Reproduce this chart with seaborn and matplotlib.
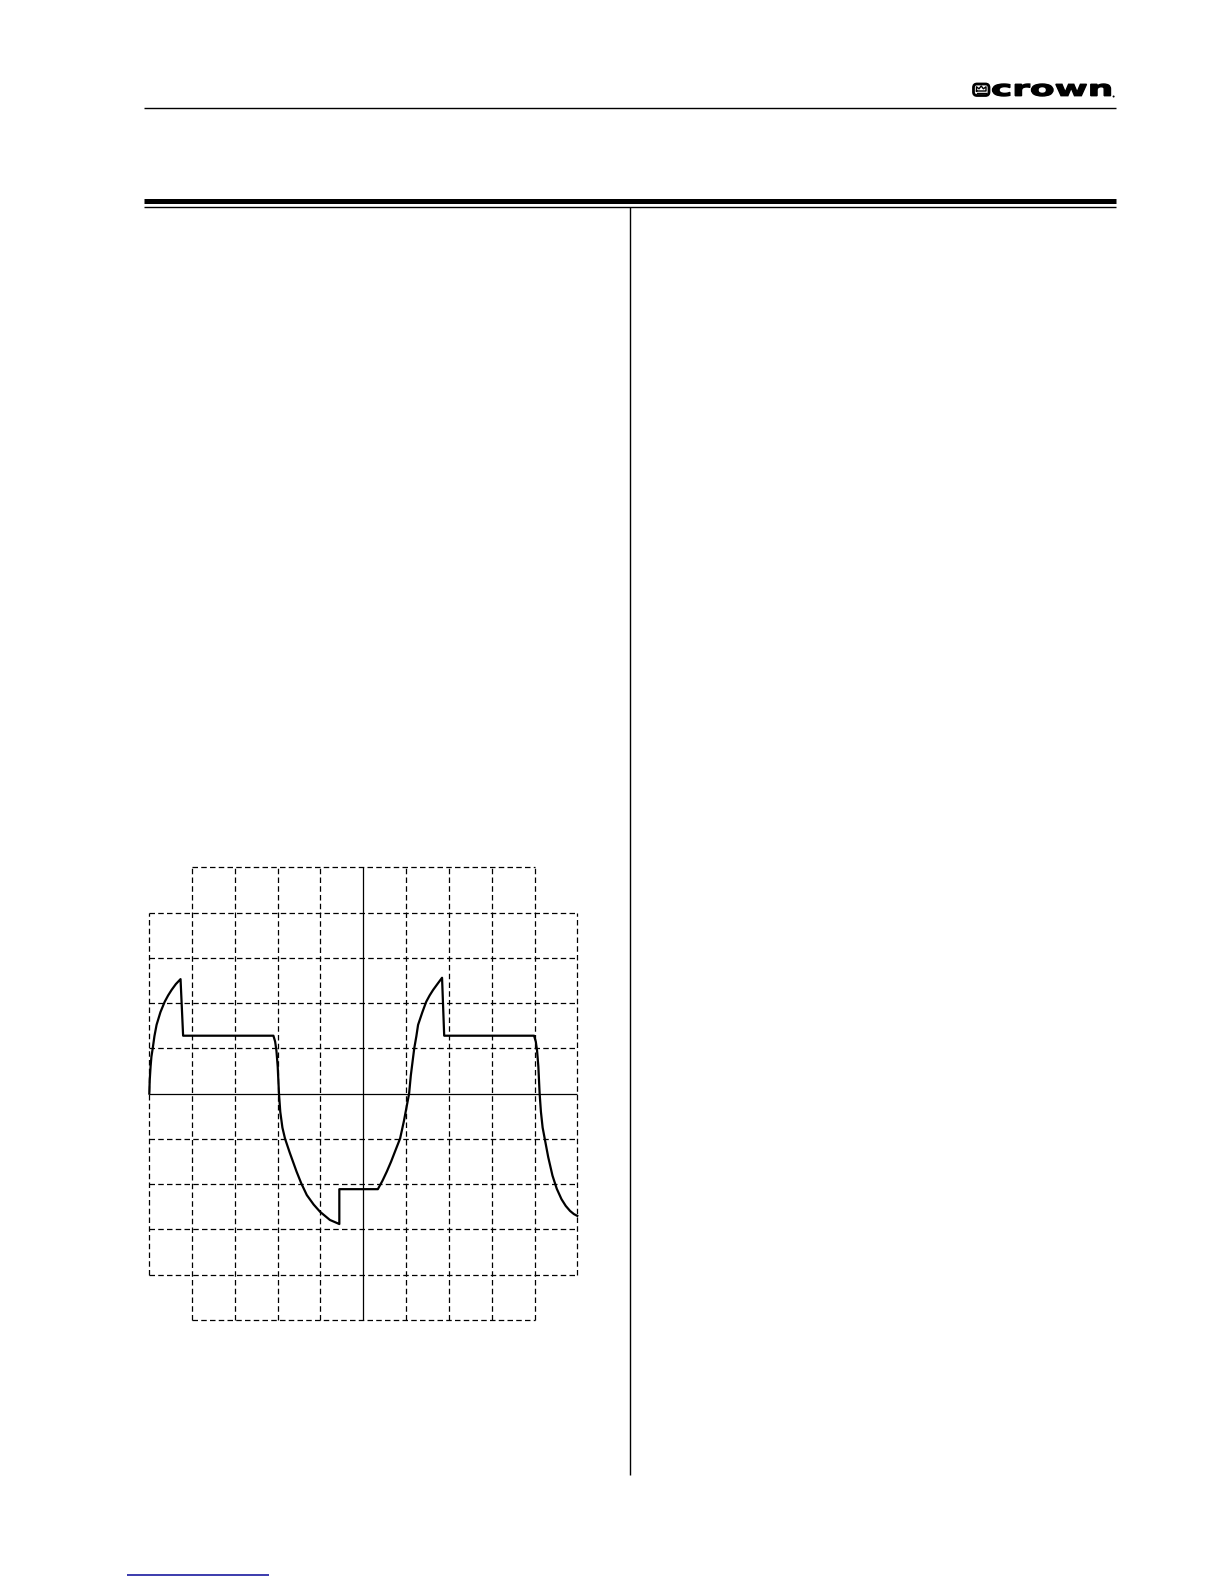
import numpy as np
import matplotlib
matplotlib.use("Agg")
import matplotlib.pyplot as plt
import seaborn as sns
from matplotlib.textpath import TextPath
from matplotlib.font_manager import FontProperties
from matplotlib.patches import PathPatch, FancyBboxPatch, Circle
from matplotlib.transforms import Affine2D

# waveform (grid divisions, centre = 0,0)
wave_x = [-5.00, -4.99, -4.97, -4.95, -4.92, -4.88, -4.83, -4.74, -4.64,
          -4.56, -4.48, -4.38, -4.27, -4.21,
          -2.10, -2.06, -2.03, -2.00, -1.97, -1.94, -1.89, -1.83, -1.72,
          -1.56, -1.45, -1.32, -1.16, -1.01, -0.78, -0.56, -0.56,
          0.34, 0.45, 0.55, 0.65, 0.74, 0.86, 0.95, 1.02, 1.07, 1.11,
          1.15, 1.19, 1.24, 1.28, 1.38, 1.47, 1.55, 1.63, 1.73, 1.84, 1.89,
          3.99, 4.03, 4.06, 4.09, 4.12, 4.15, 4.19, 4.24, 4.32, 4.42,
          4.52, 4.63, 4.73, 4.83, 4.92, 5.00]
wave_y = [0.00, 0.30, 0.60, 0.82, 1.00, 1.27, 1.52, 1.80, 2.03,
          2.17, 2.29, 2.42, 2.53, 1.28,
          1.28, 1.15, 0.95, 0.60, 0.00, -0.40, -0.75, -0.99, -1.30,
          -1.72, -1.98, -2.24, -2.45, -2.61, -2.79, -2.88, -2.11,
          -2.11, -1.92, -1.72, -1.50, -1.28, -0.99, -0.60, -0.25, 0.00, 0.40,
          0.70, 1.00, 1.27, 1.52, 1.80, 2.03, 2.17, 2.29, 2.42, 2.56, 1.28,
          1.28, 1.15, 0.95, 0.60, 0.00, -0.40, -0.75, -1.00, -1.40, -1.81,
          -2.10, -2.33, -2.48, -2.59, -2.66, -2.70]

# graticule divisions
inner_div = [-4, -3, -2, -1, 1, 2, 3, 4]
edge_div = [-5, 5]

W, H = 1224, 1584
fig = plt.figure(figsize=(W / 100, H / 100), dpi=100)

# page overlay in pixel coordinates
page = fig.add_axes([0, 0, 1, 1])
page.set_xlim(0, W)
page.set_ylim(H, 0)
page.axis("off")

page.plot([144, 1116], [108.3, 108.3], color="black", lw=1.0, solid_capstyle="butt")
page.plot([144, 1116], [200.5, 200.5], color="black", lw=3.6, solid_capstyle="butt")
page.plot([144, 1116], [207.3, 207.3], color="black", lw=1.0, solid_capstyle="butt")
page.plot([630.3, 630.3], [207.3, 1475.3], color="black", lw=1.0, solid_capstyle="butt")
page.plot([127, 269], [1575, 1575], color="#1a1aa0", lw=1.2, solid_capstyle="butt")

# crown logo
page.add_patch(FancyBboxPatch((973.5, 84.0), 15.5, 11.5, boxstyle="round,pad=0,rounding_size=3.5",
                              fc="white", ec="black", lw=2.0))
page.plot([976.5, 976.5, 979.0, 981.2, 983.4, 986.0, 986.0, 976.5],
          [91.0, 86.8, 88.8, 86.0, 88.8, 86.8, 91.0, 91.0], color="black", lw=1.0)
page.plot([976.5, 986.0], [93.0, 93.0], color="black", lw=1.0)

tp = TextPath((0, 0), "crown", size=20, prop=FontProperties(family="DejaVu Sans", weight="bold"))
ext = tp.get_extents()
x0, x1, y0, y1 = 992.5, 1110.5, 84.0, 96.0
tr = (Affine2D().translate(-ext.x0, -ext.y0)
      .scale((x1 - x0) / ext.width, -(y1 - y0) / ext.height)
      .translate(x0, y1))
page.add_patch(PathPatch(tr.transform_path(tp), fc="black", ec="black", lw=1.0))
page.add_patch(Circle((1113.6, 96.5), 1.0, fc="black", ec="none"))

# oscilloscope graticule
gx0, gx1, gy0, gy1 = 149.3, 577.3, 867.3, 1320.0
ax = fig.add_axes([gx0 / W, 1 - gy1 / H, (gx1 - gx0) / W, (gy1 - gy0) / H])
ax.set_xlim(-5, 5)
ax.set_ylim(-5, 5)
ax.axis("off")

dash = (0, (4.4, 2.6))
ax.vlines(inner_div, -5, 5, colors="black", linestyles=dash, lw=0.9, clip_on=False)
ax.vlines(edge_div, -4, 4, colors="black", linestyles=dash, lw=0.9, clip_on=False)
ax.hlines(inner_div, -5, 5, colors="black", linestyles=dash, lw=0.9, clip_on=False)
ax.hlines(edge_div, -4, 4, colors="black", linestyles=dash, lw=0.9, clip_on=False)
ax.vlines([0], -5, 5, colors="black", lw=0.9, clip_on=False)
ax.hlines([0], -5, 5, colors="black", lw=0.9, clip_on=False)

sns.lineplot(x=wave_x, y=wave_y, sort=False, estimator=None, color="black",
             lw=1.6, ax=ax, legend=False)
for ln in ax.lines:
    ln.set_clip_on(False)
    ln.set_solid_joinstyle("round")
ax.set_xlim(-5, 5)
ax.set_ylim(-5, 5)

fig.savefig("out.png", dpi=100)
